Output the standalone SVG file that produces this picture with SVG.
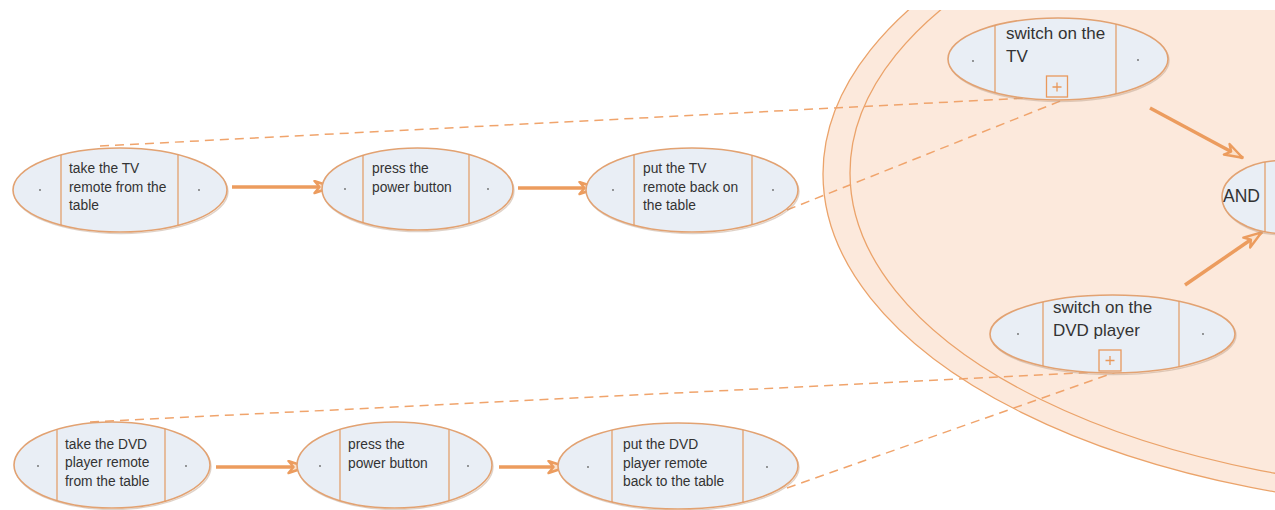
<svg xmlns="http://www.w3.org/2000/svg" width="1275" height="510" viewBox="0 0 1275 510">
<style>
.bg{fill:#fce9dc;stroke:#eba36a;stroke-width:1.3}
.nd{fill:#e9eef5;stroke:#e2a272;stroke-width:1.6}
.sh{fill:none;stroke:#b99c86;stroke-width:1.4;stroke-opacity:0.45}
.dv{stroke:#e39a62;stroke-width:1.2}
.dot{fill:#6b6b6b}
.t{font-family:"Liberation Sans",Arial,sans-serif;font-size:13.8px;fill:#333}
.tl{font-family:"Liberation Sans",Arial,sans-serif;font-size:17px;fill:#333}
.dash{fill:none;stroke:#f0a46c;stroke-width:1.5;stroke-dasharray:9 6}
.arr{fill:none;stroke:#ec9c5e;stroke-width:3.5;marker-end:url(#ah)}
.pb{fill:none;stroke:#e9995c;stroke-width:1.3}
</style>
<defs>
<clipPath id="clipTop"><rect x="0" y="10" width="1275" height="500"/></clipPath>
<marker id="ah" markerUnits="userSpaceOnUse" viewBox="0 0 21 15" refX="20" refY="7.5" markerWidth="21" markerHeight="15" orient="auto">
<path d="M1.5,1.5 L19.5,7.5 L1.5,13.5 L6.5,7.5 Z" fill="#fbe1cb" stroke="#ec9c5e" stroke-width="2.4" stroke-linejoin="round"/>
</marker>
</defs>
<rect width="1275" height="510" fill="#ffffff"/>
<g id="context" clip-path="url(#clipTop)">
<ellipse class="bg" cx="1500" cy="174" rx="677" ry="337"/>
<ellipse class="bg" cx="1500" cy="173" rx="650" ry="320"/>
</g>
<g id="connectors">
<line class="dash" x1="100" y1="146" x2="1047" y2="97"/>
<line class="dash" x1="787" y1="210" x2="1063" y2="100"/>
<line class="dash" x1="90" y1="422" x2="1100" y2="372"/>
<line class="dash" x1="787" y1="488" x2="1116" y2="372"/>
<line class="arr" x1="232" y1="187" x2="333" y2="187"/>
<line class="arr" x1="518" y1="188" x2="598" y2="188"/>
<line class="arr" x1="216" y1="467" x2="307" y2="467"/>
<line class="arr" x1="499" y1="467" x2="567" y2="467"/>
<line class="arr" x1="1150" y1="108" x2="1243" y2="158"/>
<line class="arr" x1="1185" y1="285" x2="1262" y2="232"/>
</g>
<g id="n1">
<ellipse class="sh" cx="121" cy="191.5" rx="107" ry="42"/>
<ellipse class="nd" cx="120" cy="190" rx="107" ry="42"/>
<line class="dv" x1="61" y1="155" x2="61" y2="225"/>
<line class="dv" x1="178" y1="155" x2="178" y2="225"/>
<circle class="dot" cx="40" cy="190" r="0.9"/><circle class="dot" cx="199" cy="190" r="0.9"/>
<text class="t" x="69" y="173">take the TV</text>
<text class="t" x="69" y="191.5">remote from the</text>
<text class="t" x="69" y="210">table</text>
</g>
<g id="n2">
<ellipse class="sh" cx="418.5" cy="190.5" rx="95.5" ry="41"/>
<ellipse class="nd" cx="417.5" cy="189" rx="95.5" ry="41"/>
<line class="dv" x1="363" y1="155.3" x2="363" y2="222.7"/>
<line class="dv" x1="469" y1="154.5" x2="469" y2="223.5"/>
<circle class="dot" cx="345" cy="189" r="0.9"/><circle class="dot" cx="488" cy="189" r="0.9"/>
<text class="t" x="372" y="172.5">press the</text>
<text class="t" x="372" y="191.5">power button</text>
</g>
<g id="n3">
<ellipse class="sh" cx="693" cy="191.5" rx="106" ry="42"/>
<ellipse class="nd" cx="692" cy="190" rx="106" ry="42"/>
<line class="dv" x1="634" y1="154.8" x2="634" y2="225.2"/>
<line class="dv" x1="752" y1="155.4" x2="752" y2="224.6"/>
<circle class="dot" cx="613" cy="190" r="0.9"/><circle class="dot" cx="773" cy="190" r="0.9"/>
<text class="t" x="643" y="173">put the TV</text>
<text class="t" x="643" y="191.5">remote back on</text>
<text class="t" x="643" y="210">the table</text>
</g>
<g id="n4">
<ellipse class="sh" cx="113" cy="466.5" rx="98" ry="43"/>
<ellipse class="nd" cx="112" cy="465" rx="98" ry="43"/>
<line class="dv" x1="57" y1="429.4" x2="57" y2="500.6"/>
<line class="dv" x1="165" y1="428.8" x2="165" y2="501.2"/>
<circle class="dot" cx="38" cy="466" r="0.9"/><circle class="dot" cx="186" cy="466" r="0.9"/>
<text class="t" x="65" y="448.5">take the DVD</text>
<text class="t" x="65" y="467">player remote</text>
<text class="t" x="65" y="485.5">from the table</text>
</g>
<g id="n5">
<ellipse class="sh" cx="395.5" cy="466.5" rx="97.5" ry="43"/>
<ellipse class="nd" cx="394.5" cy="465" rx="97.5" ry="43"/>
<line class="dv" x1="340" y1="429.3" x2="340" y2="500.7"/>
<line class="dv" x1="449" y1="429.3" x2="449" y2="500.7"/>
<circle class="dot" cx="320" cy="466" r="0.9"/><circle class="dot" cx="468" cy="466" r="0.9"/>
<text class="t" x="348" y="448.5">press the</text>
<text class="t" x="348" y="467.5">power button</text>
</g>
<g id="n6">
<ellipse class="sh" cx="679" cy="467.5" rx="120" ry="43"/>
<ellipse class="nd" cx="678" cy="466" rx="120" ry="43"/>
<line class="dv" x1="612" y1="430.1" x2="612" y2="501.9"/>
<line class="dv" x1="743" y1="429.9" x2="743" y2="502.1"/>
<circle class="dot" cx="588" cy="467" r="0.9"/><circle class="dot" cx="767" cy="467" r="0.9"/>
<text class="t" x="623" y="449">put the DVD</text>
<text class="t" x="623" y="467.5">player remote</text>
<text class="t" x="623" y="486">back to the table</text>
</g>
<g id="n7">
<ellipse class="sh" cx="1059" cy="60.5" rx="110" ry="41"/>
<ellipse class="nd" cx="1058" cy="59" rx="110" ry="41"/>
<line class="dv" x1="995" y1="25.4" x2="995" y2="92.6"/>
<line class="dv" x1="1116" y1="24.2" x2="1116" y2="93.8"/>
<circle class="dot" cx="973" cy="61" r="0.9"/><circle class="dot" cx="1138" cy="60" r="0.9"/>
<text class="tl" x="1006" y="38.5">switch on the</text>
<text class="tl" x="1006" y="61.5">TV</text>
<rect class="pb" x="1046.5" y="76" width="21" height="21"/>
<path class="pb" d="M1052.5,87 H1061.5 M1057,82.5 V91.5"/>
</g>
<g id="n8">
<ellipse class="sh" cx="1113.5" cy="335.5" rx="122.5" ry="39"/>
<ellipse class="nd" cx="1112.5" cy="334" rx="122.5" ry="39"/>
<line class="dv" x1="1043" y1="301.9" x2="1043" y2="366.1"/>
<line class="dv" x1="1179" y1="301.2" x2="1179" y2="366.8"/>
<circle class="dot" cx="1018" cy="334" r="0.9"/><circle class="dot" cx="1203" cy="334" r="0.9"/>
<text class="tl" x="1053" y="313">switch on the</text>
<text class="tl" x="1053" y="336">DVD player</text>
<rect class="pb" x="1099" y="350" width="22" height="21"/>
<path class="pb" d="M1105.5,360.5 H1114.5 M1110,356 V365"/>
</g>
<g id="n9">
<ellipse class="sh" cx="1284" cy="198.5" rx="61" ry="36.5"/>
<ellipse class="nd" cx="1283" cy="197" rx="61" ry="36.5"/>
<line class="dv" x1="1265" y1="162" x2="1265" y2="232"/>
<text class="tl" x="1223" y="202" style="font-size:17.5px">AND</text>
</g>
</svg>
